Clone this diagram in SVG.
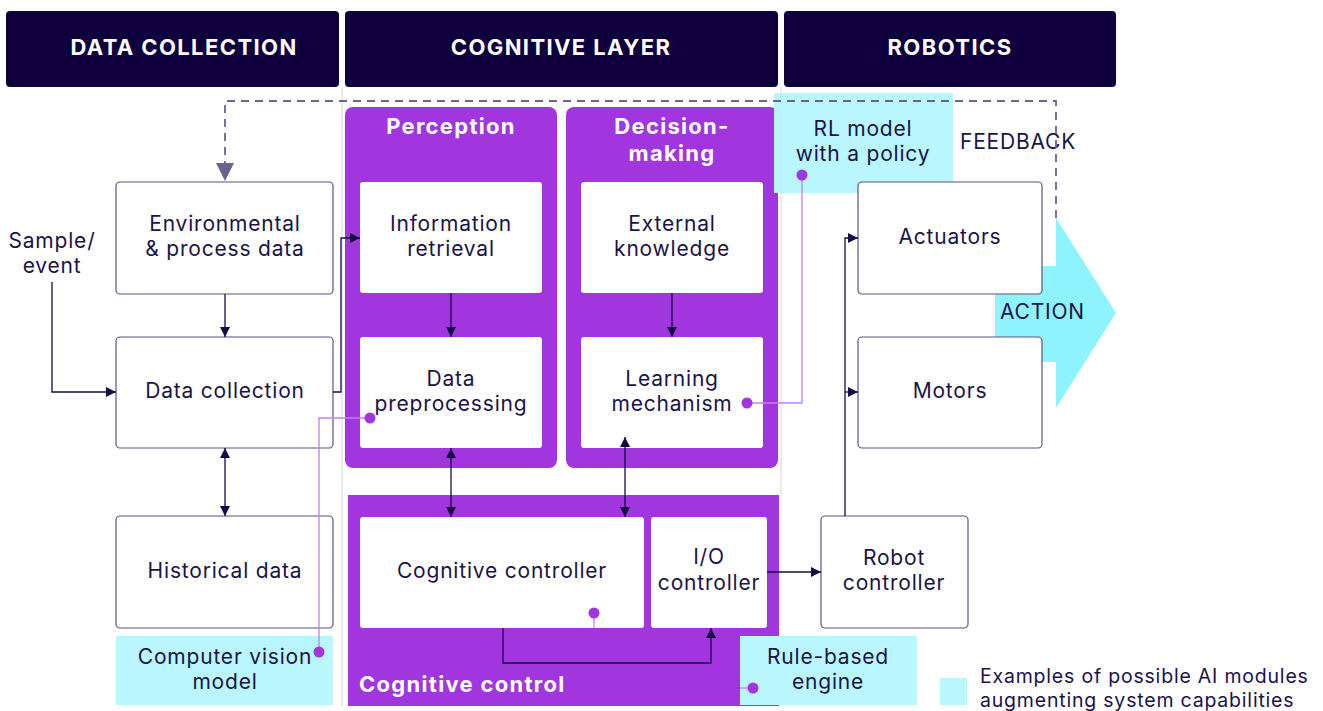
<svg xmlns="http://www.w3.org/2000/svg" width="1323" height="711" viewBox="0 0 1323 711">
  <defs>
    <style>
      .hdr { fill: #0f003d; }
      .hdr-t { font-family: Inter, "Noto Sans", sans-serif; font-weight: 700; font-size: 22px; letter-spacing: 1.4px; fill: #ffffff; text-anchor: middle; }
      .box { fill: #ffffff; stroke: #5b5383; stroke-width: 1.2; }
      .wbox { fill: #ffffff; }
      .grp { fill: #a236de; }
      .ai { fill: #baf6fd; }
      .t { font-family: Inter, "Noto Sans", sans-serif; font-size: 21px; letter-spacing: 0.8px; fill: #1b1347; text-anchor: middle; }
      .tl { font-family: Inter, "Noto Sans", sans-serif; font-size: 21px; letter-spacing: 0.8px; fill: #1b1347; }
      .lg { font-family: Inter, "Noto Sans", sans-serif; font-size: 19.5px; letter-spacing: 0.8px; fill: #1b1347; }
      .gt { font-family: Inter, "Noto Sans", sans-serif; font-weight: 700; font-size: 22px; letter-spacing: 1.3px; fill: #ffffff; text-anchor: middle; }
      .conn { fill: none; stroke: #150b45; stroke-width: 1.3; }
      .link { fill: none; stroke: #c47ff0; stroke-width: 1.3; }
      .dot { fill: #a236de; }
      .fb { fill: none; stroke: #6b6290; stroke-width: 1.8; stroke-dasharray: 8 6; }
      .sep { stroke: #e4e2ec; stroke-width: 1.5; }
    </style>
    <marker id="arr" viewBox="0 0 10 10" refX="10" refY="5" markerWidth="10" markerHeight="10" markerUnits="userSpaceOnUse" orient="auto-start-reverse">
      <path d="M0,0 L10,5 L0,10 Z" fill="#150b45"/>
    </marker>
  </defs>

  <rect width="1323" height="711" fill="#ffffff"/>

  <!-- column separators -->
  <line class="sep" x1="342" y1="87" x2="342" y2="706"/>
  <line class="sep" x1="781" y1="87" x2="781" y2="495"/>

  <!-- column headers -->
  <g id="hdr-data">
    <rect class="hdr" x="6" y="11" width="333" height="76" rx="4"/>
    <text class="hdr-t" x="184" y="55">DATA COLLECTION</text>
  </g>
  <g id="hdr-cog">
    <rect class="hdr" x="345" y="11" width="433" height="76" rx="4"/>
    <text class="hdr-t" x="561" y="55">COGNITIVE LAYER</text>
  </g>
  <g id="hdr-robot">
    <rect class="hdr" x="784" y="11" width="332" height="76" rx="4"/>
    <text class="hdr-t" x="950" y="55">ROBOTICS</text>
  </g>

  <!-- action arrow -->
  <g id="action">
    <path d="M995,266 H1056 V218 L1116,313 L1056,408 V362 H995 Z" fill="#8ef3fd"/>
    <text class="tl" x="1000" y="319">ACTION</text>
  </g>

  <!-- data collection column -->
  <g id="sample-event">
    <text class="t" x="52" y="248">Sample/</text>
    <text class="t" x="52" y="273">event</text>
  </g>
  <g id="env-data">
    <rect class="box" x="116" y="182" width="217" height="112" rx="4"/>
    <text class="t" x="225" y="231">Environmental</text>
    <text class="t" x="225" y="256">&amp; process data</text>
  </g>
  <g id="data-collection">
    <rect class="box" x="116" y="337" width="217" height="111" rx="4"/>
    <text class="t" x="225" y="398">Data collection</text>
  </g>
  <g id="historical-data">
    <rect class="box" x="116" y="516" width="217" height="112" rx="4"/>
    <text class="t" x="225" y="578">Historical data</text>
  </g>
  <g id="cv-model">
    <rect class="ai" x="116" y="636" width="217" height="69"/>
    <text class="t" x="225" y="664">Computer vision</text>
    <text class="t" x="225" y="689">model</text>
  </g>

  <!-- perception -->
  <g id="perception">
    <rect class="grp" x="345" y="107" width="212" height="361" rx="8"/>
    <text class="gt" x="451" y="134">Perception</text>
  </g>
  <g id="info-retrieval">
    <rect class="wbox" x="360" y="182" width="182" height="111" rx="3"/>
    <text class="t" x="451" y="231">Information</text>
    <text class="t" x="451" y="256">retrieval</text>
  </g>
  <g id="data-preprocessing">
    <rect class="wbox" x="360" y="337" width="182" height="111" rx="3"/>
    <text class="t" x="451" y="386">Data</text>
    <text class="t" x="451" y="411">preprocessing</text>
  </g>

  <!-- decision-making -->
  <g id="decision-making">
    <rect class="grp" x="566" y="107" width="212" height="361" rx="8"/>
    <text class="gt" x="672" y="134">Decision-</text>
    <text class="gt" x="672" y="161">making</text>
  </g>
  <g id="external-knowledge">
    <rect class="wbox" x="581" y="182" width="182" height="111" rx="3"/>
    <text class="t" x="672" y="231">External</text>
    <text class="t" x="672" y="256">knowledge</text>
  </g>
  <g id="learning-mechanism">
    <rect class="wbox" x="581" y="337" width="182" height="111" rx="3"/>
    <text class="t" x="672" y="386">Learning</text>
    <text class="t" x="672" y="411">mechanism</text>
  </g>

  <!-- cognitive control -->
  <g id="cognitive-control">
    <rect class="grp" x="348" y="495" width="431" height="211"/>
    <text class="gt" x="359" y="692" style="text-anchor:start">Cognitive control</text>
  </g>
  <g id="cognitive-controller">
    <rect class="wbox" x="360" y="517" width="284" height="111" rx="3"/>
    <text class="t" x="502" y="578">Cognitive controller</text>
  </g>
  <g id="io-controller">
    <rect class="wbox" x="651" y="517" width="116" height="111" rx="3"/>
    <text class="t" x="709" y="564">I/O</text>
    <text class="t" x="709" y="590">controller</text>
  </g>

  <!-- robotics -->
  <g id="rl-model">
    <rect class="ai" x="774" y="93" width="179" height="100"/>
    <text class="t" x="863" y="136">RL model</text>
    <text class="t" x="863" y="161">with a policy</text>
  </g>
  <g id="feedback-label">
    <text class="tl" x="960" y="149">FEEDBACK</text>
  </g>
  <g id="actuators">
    <rect class="box" x="858" y="182" width="184" height="112" rx="4"/>
    <text class="t" x="950" y="244">Actuators</text>
  </g>
  <g id="motors">
    <rect class="box" x="858" y="337" width="184" height="111" rx="4"/>
    <text class="t" x="950" y="398">Motors</text>
  </g>
  <g id="robot-controller">
    <rect class="box" x="821" y="516" width="147" height="112" rx="4"/>
    <text class="t" x="894" y="565">Robot</text>
    <text class="t" x="894" y="590">controller</text>
  </g>
  <g id="rule-engine">
    <rect class="ai" x="740" y="636" width="177" height="69"/>
    <text class="t" x="828" y="664">Rule-based</text>
    <text class="t" x="828" y="689">engine</text>
  </g>

  <!-- legend -->
  <g id="legend">
    <rect class="ai" x="940" y="678" width="27" height="27"/>
    <text class="lg" x="980" y="683">Examples of possible AI modules</text>
    <text class="lg" x="980" y="707">augmenting system capabilities</text>
  </g>

  <!-- connectors -->
  <g id="connectors">
    <!-- feedback loop -->
    <path class="fb" d="M1056,218 V101 H225 V166"/>
    <path d="M216,163 L234,163 L225,181 Z" fill="#6b6290"/>

    <path class="conn" d="M225,294 V337" marker-end="url(#arr)"/>
    <path class="conn" d="M52,282 V392 H116" marker-end="url(#arr)"/>
    <path class="conn" d="M225,448 V516" marker-start="url(#arr)" marker-end="url(#arr)"/>
    <path class="conn" d="M333,392 H341 V238 H360" marker-end="url(#arr)"/>
    <path class="conn" d="M451,293 V337" marker-end="url(#arr)"/>
    <path class="conn" d="M672,293 V337" marker-end="url(#arr)"/>
    <path class="conn" d="M451,448 V517" marker-start="url(#arr)" marker-end="url(#arr)"/>
    <path class="conn" d="M625,437 V517" marker-start="url(#arr)" marker-end="url(#arr)"/>
    <path class="conn" d="M503,628 V663 H711 V628" marker-end="url(#arr)"/>
    <path class="conn" d="M767,572 H821" marker-end="url(#arr)"/>
    <path class="conn" d="M845,516 V238 H858" marker-end="url(#arr)"/>
    <path class="conn" d="M845,392 H858" marker-end="url(#arr)"/>

    <!-- AI module links -->
    <path class="link" d="M319,652 V418 H370"/>
    <path class="link" d="M747,403 H802 V175"/>
    <path class="link" d="M594,613 V628"/>
    <path class="link" d="M753,688 H740"/>
    <circle class="dot" cx="319" cy="652" r="5.5"/>
    <circle class="dot" cx="370" cy="418" r="5.5"/>
    <circle class="dot" cx="747" cy="403" r="5.5"/>
    <circle class="dot" cx="802" cy="175" r="5.5"/>
    <circle class="dot" cx="594" cy="613" r="5.5"/>
    <circle class="dot" cx="753" cy="688" r="5.5"/>
  </g>
</svg>
